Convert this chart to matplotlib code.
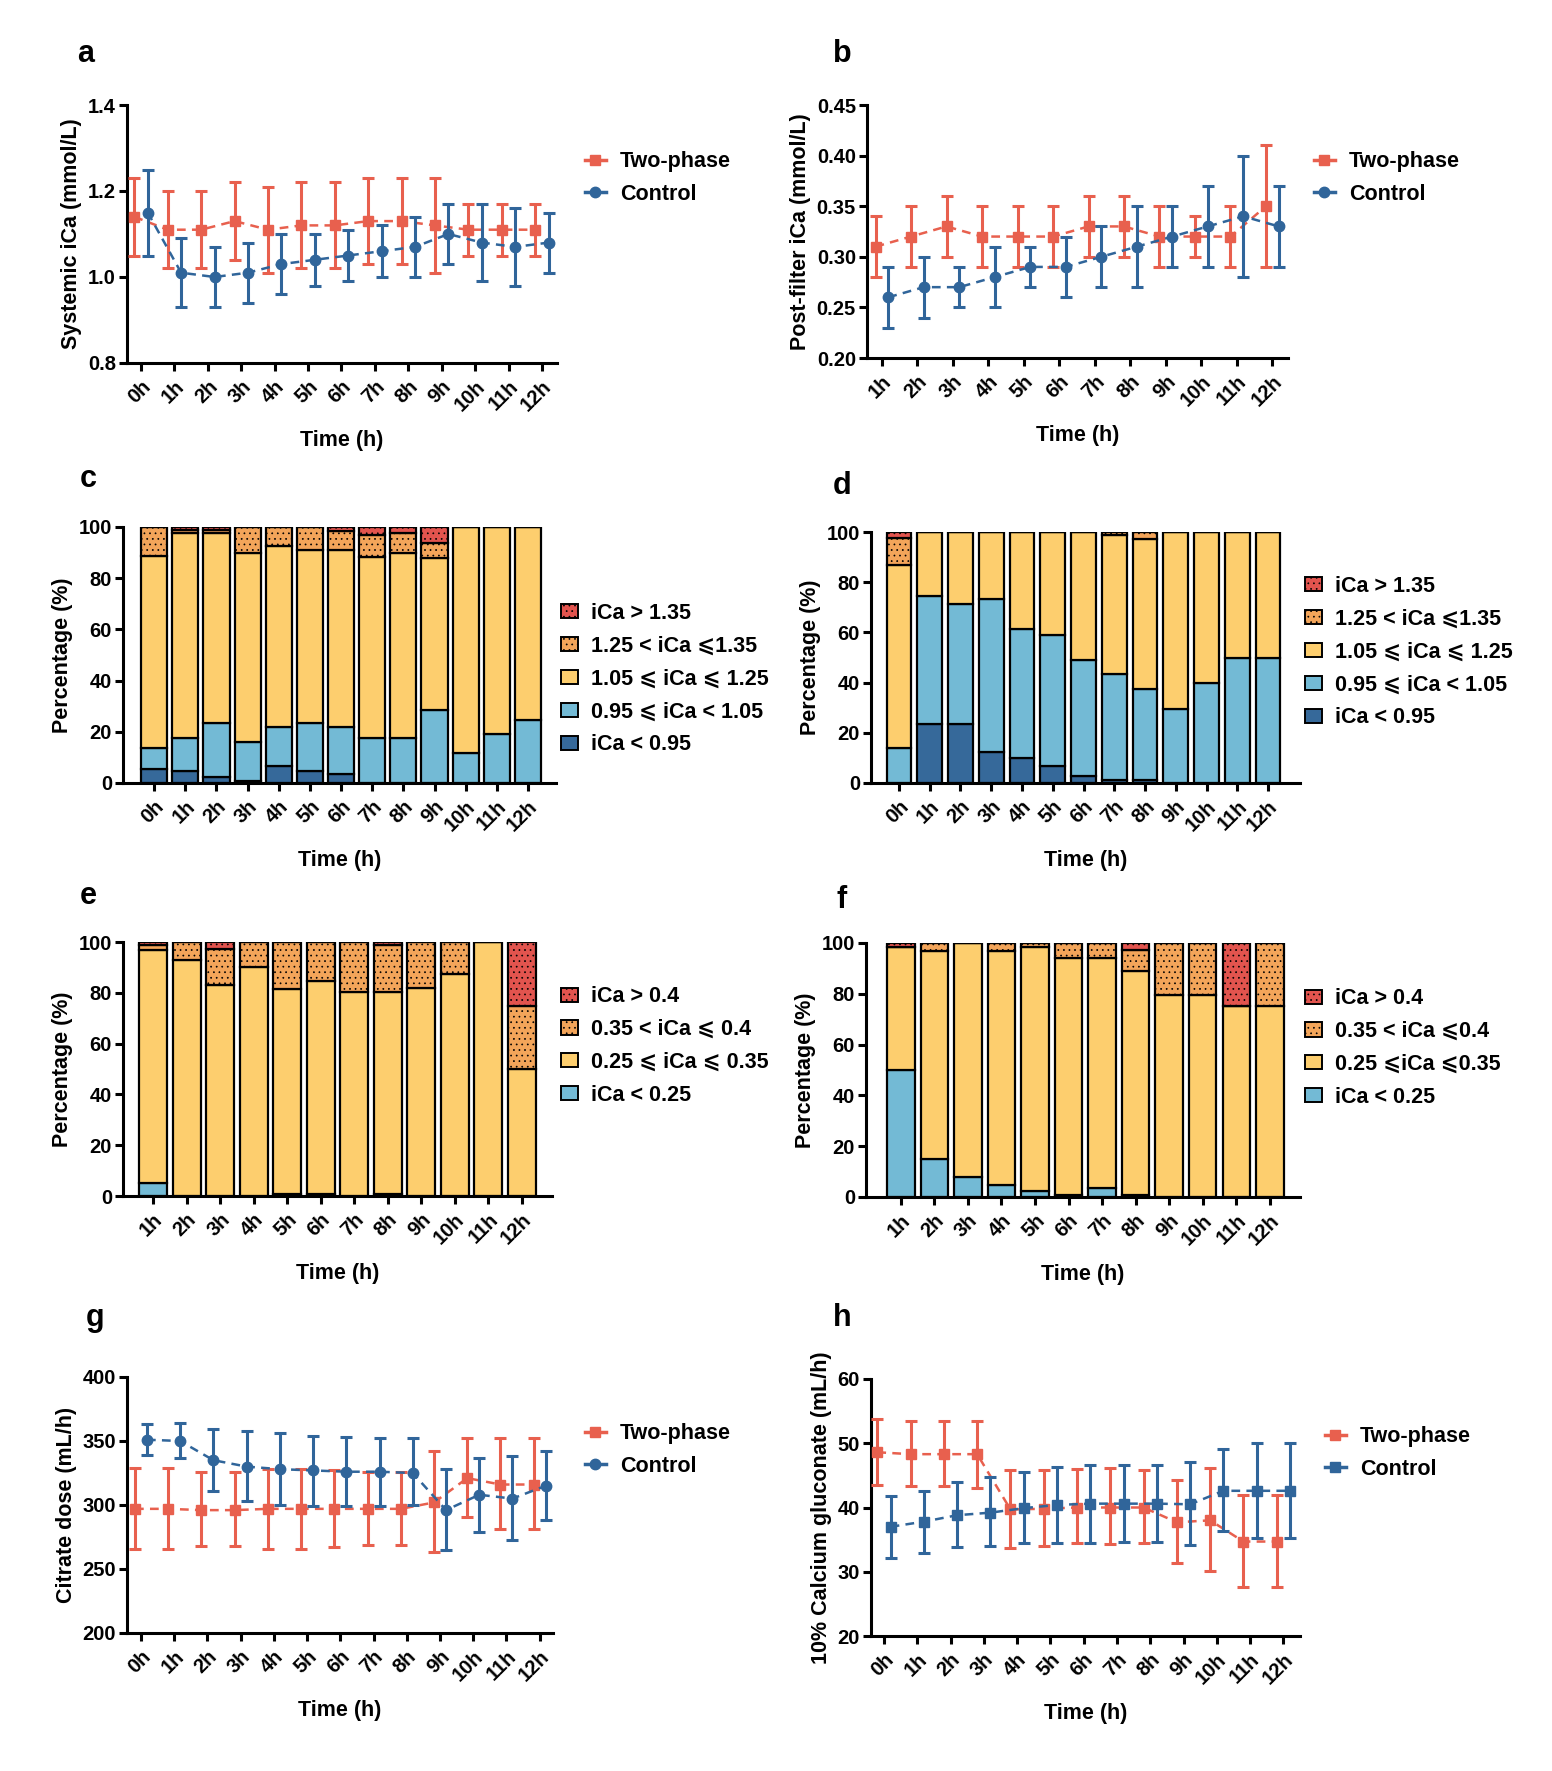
import matplotlib
matplotlib.use("Agg")
import matplotlib.pyplot as plt
from matplotlib.lines import Line2D
from matplotlib.patches import Patch
import numpy as np

plt.rcParams['font.family'] = ['Liberation Sans', 'DejaVu Sans']
plt.rcParams['font.weight'] = 'bold'
plt.rcParams['axes.labelweight'] = 'bold'
plt.rcParams['hatch.linewidth'] = 0.5

# ---------------- data ----------------
hours_0_12 = ['0h', '1h', '2h', '3h', '4h', '5h', '6h', '7h', '8h', '9h', '10h', '11h', '12h']
hours_1_12 = ['1h', '2h', '3h', '4h', '5h', '6h', '7h', '8h', '9h', '10h', '11h', '12h']

# a: systemic iCa
a_two_mean = [1.14, 1.11, 1.11, 1.13, 1.11, 1.12, 1.12, 1.13, 1.13, 1.12, 1.11, 1.11, 1.11]
a_two_lo = [1.05, 1.02, 1.02, 1.04, 1.01, 1.02, 1.02, 1.03, 1.03, 1.01, 1.05, 1.05, 1.05]
a_two_hi = [1.23, 1.20, 1.20, 1.22, 1.21, 1.22, 1.22, 1.23, 1.23, 1.23, 1.17, 1.17, 1.17]
a_ctl_mean = [1.15, 1.01, 1.00, 1.01, 1.03, 1.04, 1.05, 1.06, 1.07, 1.10, 1.08, 1.07, 1.08]
a_ctl_lo = [1.05, 0.93, 0.93, 0.94, 0.96, 0.98, 0.99, 1.00, 1.00, 1.03, 0.99, 0.98, 1.01]
a_ctl_hi = [1.25, 1.09, 1.07, 1.08, 1.10, 1.10, 1.11, 1.12, 1.14, 1.17, 1.17, 1.16, 1.15]

# b: post-filter iCa
b_two_mean = [0.31, 0.32, 0.33, 0.32, 0.32, 0.32, 0.33, 0.33, 0.32, 0.32, 0.32, 0.35]
b_two_lo = [0.28, 0.29, 0.30, 0.29, 0.29, 0.29, 0.30, 0.30, 0.29, 0.30, 0.29, 0.29]
b_two_hi = [0.34, 0.35, 0.36, 0.35, 0.35, 0.35, 0.36, 0.36, 0.35, 0.34, 0.35, 0.41]
b_ctl_mean = [0.26, 0.27, 0.27, 0.28, 0.29, 0.29, 0.30, 0.31, 0.32, 0.33, 0.34, 0.33]
b_ctl_lo = [0.23, 0.24, 0.25, 0.25, 0.27, 0.26, 0.27, 0.27, 0.29, 0.29, 0.28, 0.29]
b_ctl_hi = [0.29, 0.30, 0.29, 0.31, 0.31, 0.32, 0.33, 0.35, 0.35, 0.37, 0.40, 0.37]

# c: systemic iCa distribution, two-phase (%)
c_lt095 = [5.5, 4.5, 2.3, 0.9, 6.5, 4.5, 3.6, 0, 0, 0, 0, 0, 0]
c_095_105 = [8.1, 13.2, 21.3, 15.2, 15.4, 19.1, 18.3, 17.7, 17.7, 28.7, 11.8, 19.2, 24.5]
c_105_125 = [75.0, 80.0, 74.1, 73.8, 70.6, 67.3, 69.0, 70.6, 72.3, 59.0, 88.2, 80.8, 75.5]
c_125_135 = [11.4, 1.3, 1.3, 10.1, 7.5, 9.1, 7.6, 8.7, 7.7, 5.9, 0, 0, 0]
c_gt135 = [0, 1.0, 1.0, 0, 0, 0, 1.5, 3.0, 2.3, 6.4, 0, 0, 0]

# d: systemic iCa distribution, control (%)
d_lt095 = [0, 23.6, 23.6, 12.2, 9.9, 6.6, 2.6, 1.0, 1.0, 0, 0, 0, 0]
d_095_105 = [13.9, 50.8, 47.9, 61.0, 51.3, 52.3, 46.4, 42.4, 36.6, 29.4, 39.7, 49.7, 49.7]
d_105_125 = [72.9, 25.6, 28.5, 26.8, 38.8, 41.1, 51.0, 55.5, 59.5, 70.6, 60.3, 50.3, 50.3]
d_125_135 = [10.9, 0, 0, 0, 0, 0, 0, 1.1, 2.9, 0, 0, 0, 0]
d_gt135 = [2.3, 0, 0, 0, 0, 0, 0, 0, 0, 0, 0, 0, 0]

# e: post-filter iCa distribution, two-phase (%)
e_lt025 = [5.0, 0, 0, 0, 0.8, 0.8, 0, 0.8, 0, 0, 0, 0]
e_025_035 = [92.0, 92.8, 83.0, 90.2, 80.7, 83.9, 80.3, 79.5, 82.0, 87.5, 100, 50.0]
e_035_040 = [2.0, 7.2, 14.1, 9.8, 18.5, 15.3, 19.7, 18.6, 18.0, 12.5, 0, 25.0]
e_gt040 = [1.0, 0, 2.9, 0, 0, 0, 0, 1.1, 0, 0, 0, 25.0]

# f: post-filter iCa distribution, control (%)
f_lt025 = [50.1, 15.0, 7.7, 4.9, 2.2, 0.7, 3.5, 0.7, 0, 0, 0, 0]
f_025_035 = [48.3, 82.0, 92.3, 92.1, 96.2, 93.4, 90.6, 88.1, 79.7, 79.7, 75.0, 75.0]
f_035_040 = [0, 3.0, 0, 3.0, 1.6, 5.9, 5.9, 8.6, 20.3, 20.3, 0, 25.0]
f_gt040 = [1.6, 0, 0, 0, 0, 0, 0, 2.6, 0, 0, 25.0, 0]

# g: citrate dose
g_two_mean = [297, 297, 296, 296, 297, 297, 297, 297, 297, 302, 321, 316, 316]
g_two_lo = [266, 266, 268, 268, 266, 266, 267, 269, 269, 263, 291, 281, 281]
g_two_hi = [329, 329, 326, 326, 328, 328, 327, 326, 326, 342, 352, 352, 352]
g_ctl_mean = [351, 350, 335, 330, 328, 327, 326, 326, 325, 296, 308, 305, 315]
g_ctl_lo = [339, 337, 311, 303, 300, 299, 299, 299, 300, 265, 279, 273, 288]
g_ctl_hi = [363, 364, 359, 358, 356, 354, 353, 352, 352, 328, 337, 338, 342]

# h: 10% calcium gluconate
h_two_mean = [48.6, 48.3, 48.3, 48.3, 39.7, 39.8, 40.0, 40.0, 40.0, 37.7, 38.0, 34.7, 34.7]
h_two_lo = [43.5, 43.3, 43.3, 43.1, 33.7, 34.0, 34.5, 34.3, 34.5, 31.3, 30.1, 27.6, 27.6]
h_two_hi = [53.8, 53.4, 53.4, 53.4, 45.8, 45.8, 46.0, 46.1, 45.8, 44.3, 46.2, 41.9, 41.9]
h_ctl_mean = [37.0, 37.8, 38.8, 39.2, 39.9, 40.4, 40.6, 40.6, 40.6, 40.5, 42.6, 42.6, 42.6]
h_ctl_lo = [32.2, 32.9, 33.8, 34.0, 34.5, 34.5, 34.5, 34.6, 34.6, 34.1, 36.3, 35.2, 35.2]
h_ctl_hi = [41.8, 42.5, 43.9, 44.8, 45.5, 46.3, 46.6, 46.6, 46.6, 47.1, 49.1, 50.0, 50.0]

# ---------------- style ----------------
RED = '#E8604E'
BLUE = '#30659A'
C_DARK = '#36699A'
C_LIGHT = '#73BAD5'
C_YEL = '#FDCE6E'
C_ORA = '#F3A55A'
C_RED = '#E2544E'

W, H = 1552, 1771
fig = plt.figure(figsize=(W / 100, H / 100), dpi=100)

SPW = 2.2
TICKFS = 14.5
LABFS = 15.5
LEGFS = 15.5


def add_ax(left, right, top, bottom):
    return fig.add_axes([left / W, 1 - bottom / H, (right - left) / W, (bottom - top) / H])


def style(ax, labels, xlabel, ylabel):
    for s in ['top', 'right']:
        ax.spines[s].set_visible(False)
    for s in ['left', 'bottom']:
        ax.spines[s].set_linewidth(SPW)
    ax.tick_params(axis='both', width=SPW, length=6, labelsize=TICKFS, pad=2)
    ax.tick_params(axis='x', pad=4)
    ax.set_xticks(np.arange(len(labels)) if labels[0] == '0h' else np.arange(1, len(labels) + 1))
    ax.set_xticklabels(labels, rotation=45, ha='right', rotation_mode='anchor', fontweight='bold')
    for t in ax.get_yticklabels():
        t.set_fontweight('bold')
    ax.set_xlabel(xlabel, fontsize=LABFS, fontweight='bold', labelpad=11)
    ax.set_ylabel(ylabel, fontsize=LABFS, fontweight='bold', labelpad=4)


def line_panel(ax, x, two, ctl, off, ctl_marker):
    tm, tl, th = [np.array(v) for v in two]
    cm, cl, ch = [np.array(v) for v in ctl]
    x = np.array(x, dtype=float)
    ax.errorbar(x - off, tm, yerr=[tm - tl, th - tm], color=RED, marker='s', markersize=7.5,
                linestyle=(0, (3.5, 2.5)), linewidth=1.8, elinewidth=2.2, capsize=4.5, capthick=2.2, zorder=3)
    ax.errorbar(x + off, cm, yerr=[cm - cl, ch - cm], color=BLUE, marker=ctl_marker, markersize=7.5,
                linestyle=(0, (3.5, 2.5)), linewidth=1.8, elinewidth=2.2, capsize=4.5, capthick=2.2, zorder=4)


def line_legend(px, py, ctl_marker):
    handles = [Line2D([0], [0], color=RED, marker='s', markersize=7.5, linewidth=2.5),
               Line2D([0], [0], color=BLUE, marker=ctl_marker, markersize=7.5, linewidth=2.5)]
    fig.legend(handles, ['Two-phase', 'Control'], loc='center left',
               bbox_to_anchor=(px / W, 1 - py / H), frameon=False, handlelength=1.0,
               handletextpad=0.65, labelspacing=0.55, borderaxespad=0, borderpad=0.4,
               prop={'weight': 'bold', 'size': LEGFS})


def bar_panel(ax, x, layers, colors, hatches, width):
    bottom = np.zeros(len(x))
    for vals, col, hat in zip(layers, colors, hatches):
        vals = np.array(vals, dtype=float)
        ax.bar(x, vals, width, bottom=bottom, color=col, edgecolor='black', linewidth=1.6,
               hatch=hat, zorder=2)
        bottom += vals
    ax.set_ylim(0, 100)
    ax.set_yticks([0, 20, 40, 60, 80, 100])


def bar_legend(px, py, labels, colors, hatches):
    handles = [Patch(facecolor=c, edgecolor='black', linewidth=1.4, hatch=h) for c, h in zip(colors, hatches)]
    fig.legend(handles, labels, loc='center left', bbox_to_anchor=(px / W, 1 - py / H),
               frameon=False, handlelength=0.8, handleheight=0.63, handletextpad=0.6, labelspacing=0.55,
               borderaxespad=0, borderpad=0.4, prop={'weight': 'bold', 'size': LEGFS})


def panel_letter(px, py, s):
    fig.text(px / W, 1 - py / H, s, fontsize=22, fontweight='bold', ha='center', va='center')


# ---------- a ----------
ax = add_ax(127, 557, 105, 363)
x = np.arange(13)
line_panel(ax, x, (a_two_mean, a_two_lo, a_two_hi), (a_ctl_mean, a_ctl_lo, a_ctl_hi), 0.2, 'o')
ax.set_xlim(-0.42, 12.45)
ax.set_ylim(0.8, 1.4)
ax.set_yticks([0.8, 1.0, 1.2, 1.4])
ax.yaxis.set_major_formatter(matplotlib.ticker.FormatStrFormatter('%.1f'))
style(ax, hours_0_12, 'Time (h)', 'Systemic iCa (mmol/L)')
line_legend(576, 178, 'o')
panel_letter(86, 54, 'a')

# ---------- b ----------
ax = add_ax(867, 1288, 105, 358)
x = np.arange(1, 13)
line_panel(ax, x, (b_two_mean, b_two_lo, b_two_hi), (b_ctl_mean, b_ctl_lo, b_ctl_hi), 0.18, 'o')
ax.set_xlim(0.58, 12.44)
ax.set_ylim(0.2, 0.45)
ax.set_yticks([0.20, 0.25, 0.30, 0.35, 0.40, 0.45])
ax.yaxis.set_major_formatter(matplotlib.ticker.FormatStrFormatter('%.2f'))
style(ax, hours_1_12, 'Time (h)', 'Post-filter iCa (mmol/L)')
line_legend(1305, 178, 'o')
panel_letter(842, 54, 'b')

sys_labels = ['iCa > 1.35', '1.25 < iCa \u2a7d1.35', '1.05 \u2a7d iCa \u2a7d 1.25',
              '0.95 \u2a7d iCa < 1.05', 'iCa < 0.95']
sys_colors = [C_DARK, C_LIGHT, C_YEL, C_ORA, C_RED]
sys_hatches = ['', '', '', '...', '...']

# ---------- c ----------
ax = add_ax(123, 556, 527, 783)
x = np.arange(13)
bar_panel(ax, x, [c_lt095, c_095_105, c_105_125, c_125_135, c_gt135], sys_colors, sys_hatches, 0.84)
ax.set_xlim(-1.0, 12.9)
style(ax, hours_0_12, 'Time (h)', 'Percentage (%)')
bar_legend(552, 679, sys_labels, sys_colors[::-1], sys_hatches[::-1])
panel_letter(88, 479, 'c')

# ---------- d ----------
ax = add_ax(871, 1300, 532, 783)
bar_panel(ax, x, [d_lt095, d_095_105, d_105_125, d_125_135, d_gt135], sys_colors, sys_hatches, 0.8)
ax.set_xlim(-0.91, 13.04)
style(ax, hours_0_12, 'Time (h)', 'Percentage (%)')
bar_legend(1296, 652, sys_labels, sys_colors[::-1], sys_hatches[::-1])
panel_letter(842, 486, 'd')

pf_labels = ['iCa > 0.4', '0.35 < iCa \u2a7d 0.4', '0.25 \u2a7d iCa \u2a7d 0.35', 'iCa < 0.25']
pf_colors = [C_LIGHT, C_YEL, C_ORA, C_RED]
pf_hatches = ['', '', '...', '...']

# ---------- e ----------
ax = add_ax(123, 552, 942, 1196)
x = np.arange(1, 13)
bar_panel(ax, x, [e_lt025, e_025_035, e_035_040, e_gt040], pf_colors, pf_hatches, 0.83)
ax.set_xlim(0.1, 12.9)
style(ax, hours_1_12, 'Time (h)', 'Percentage (%)')
bar_legend(552, 1046, pf_labels, pf_colors[::-1], pf_hatches[::-1])
panel_letter(88, 896, 'e')

pf_labels_f = ['iCa > 0.4', '0.35 < iCa \u2a7d0.4', '0.25 \u2a7diCa \u2a7d0.35', 'iCa < 0.25']

# ---------- f ----------
ax = add_ax(866, 1300, 943, 1197)
bar_panel(ax, x, [f_lt025, f_025_035, f_035_040, f_gt040], pf_colors, pf_hatches, 0.82)
ax.set_xlim(-0.04, 12.9)
style(ax, hours_1_12, 'Time (h)', 'Percentage (%)')
bar_legend(1296, 1048, pf_labels_f, pf_colors[::-1], pf_hatches[::-1])
panel_letter(842, 900, 'f')

# ---------- g ----------
ax = add_ax(127, 553, 1377, 1633)
x = np.arange(13)
line_panel(ax, x, (g_two_mean, g_two_lo, g_two_hi), (g_ctl_mean, g_ctl_lo, g_ctl_hi), 0.18, 'o')
ax.set_xlim(-0.42, 12.4)
ax.set_ylim(200, 400)
ax.set_yticks([200, 250, 300, 350, 400])
style(ax, hours_0_12, 'Time (h)', 'Citrate dose (mL/h)')
line_legend(576, 1450, 'o')
panel_letter(95, 1318, 'g')

# ---------- h ----------
ax = add_ax(871, 1300, 1379, 1636)
line_panel(ax, x, (h_two_mean, h_two_lo, h_two_hi), (h_ctl_mean, h_ctl_lo, h_ctl_hi), 0.2, 's')
ax.set_xlim(-0.39, 12.5)
ax.set_ylim(20, 60)
ax.set_yticks([20, 30, 40, 50, 60])
style(ax, hours_0_12, 'Time (h)', '10% Calcium gluconate (mL/h)')
line_legend(1316, 1453, 's')
panel_letter(842, 1318, 'h')

fig.savefig('out.png', dpi=100)
